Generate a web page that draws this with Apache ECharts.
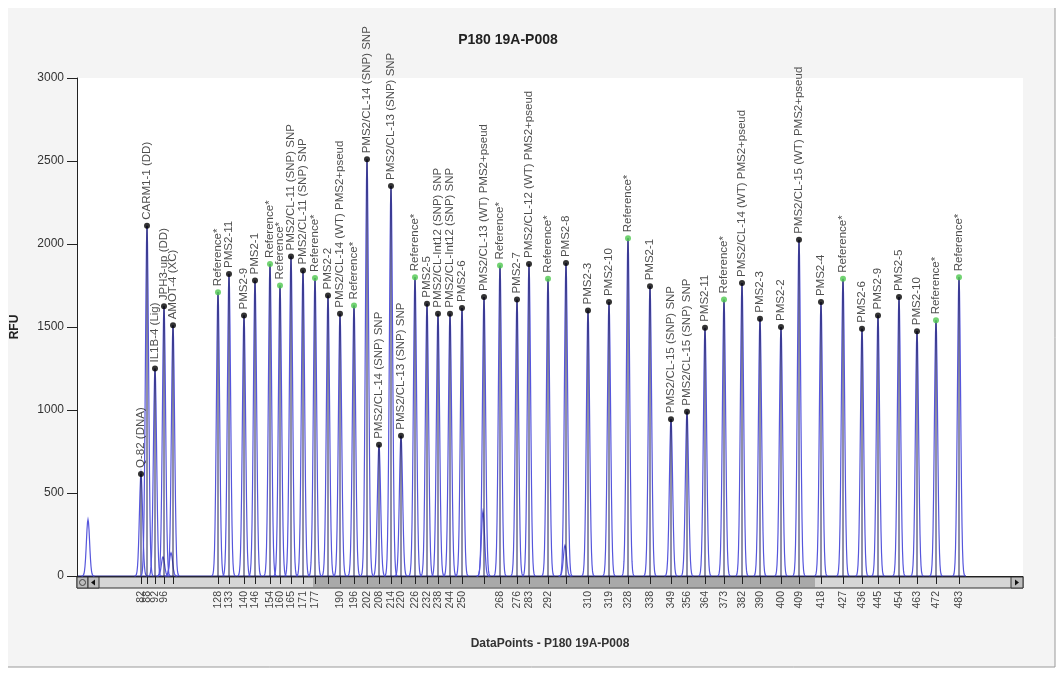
<!DOCTYPE html>
<html lang="en">
<head>
    <meta charset="UTF-8">
    <title>P180 19A-P008</title>
    <style>
        html,body{
            margin: 0;
            width: 100%;
            height: 100%;
            background: #fff;
        }
        #chartmain{
            width: 1059px;
            height: 675px;
        }
    </style>
</head>
<body>
<div id="chartmain"></div>

<script src="https://cdn.jsdelivr.net/npm/echarts@6/dist/echarts.min.js"></script>
<script type="text/javascript">
    // peak positions (data points), heights (RFU), probe names, size labels under the ticks
    var peakPos = [141, 147, 155, 164, 173,
        218, 229, 244, 255, 270, 280, 291, 303, 315,
        328,
        340, 354, 367, 379, 391, 401, 415, 427, 438, 450, 462,
        484,
        500, 517, 529, 548,
        566,
        588, 609, 628, 650, 671, 687, 705, 724, 742, 760, 781, 799, 821, 843, 862, 878, 899, 917, 936, 959];
    var peakHeight = [615, 2110, 1250, 1625, 1510,
        1710, 1820, 1570, 1780, 1880, 1750, 1925, 1840, 1795,
        1690,
        1580, 1630, 2510, 790, 2350, 845, 1800, 1640, 1580, 1580, 1615,
        1680,
        1870, 1665, 1880, 1790,
        1885,
        1600, 1650, 2035, 1745, 945, 990, 1495, 1665, 1765, 1550, 1500, 2025, 1650, 1790, 1490, 1570, 1680, 1475, 1540, 1800];
    var peakName = ['Q-82 (DNA)', 'CARM1-1 (DD)', 'IL1B-4 (Lig)', 'JPH3-up (DD)', 'AMOT-4 (XC)',
        'Reference*', 'PMS2-11', 'PMS2-9', 'PMS2-1', 'Reference*', 'Reference*', 'PMS2/CL-11 (SNP) SNP', 'PMS2/CL-11 (SNP) SNP', 'Reference*',
        'PMS2-2',
        'PMS2/CL-14 (WT) PMS2+pseud', 'Reference*', 'PMS2/CL-14 (SNP) SNP', 'PMS2/CL-14 (SNP) SNP', 'PMS2/CL-13 (SNP) SNP', 'PMS2/CL-13 (SNP) SNP', 'Reference*', 'PMS2-5', 'PMS2/CL-Int12 (SNP) SNP', 'PMS2/CL-Int12 (SNP) SNP', 'PMS2-6',
        'PMS2/CL-13 (WT) PMS2+pseud',
        'Reference*', 'PMS2-7', 'PMS2/CL-12 (WT) PMS2+pseud', 'Reference*',
        'PMS2-8',
        'PMS2-3', 'PMS2-10', 'Reference*', 'PMS2-1', 'PMS2/CL-15 (SNP) SNP', 'PMS2/CL-15 (SNP) SNP', 'PMS2-11', 'Reference*', 'PMS2/CL-14 (WT) PMS2+pseud', 'PMS2-3', 'PMS2-2', 'PMS2/CL-15 (WT) PMS2+pseud', 'PMS2-4', 'Reference*', 'PMS2-6', 'PMS2-9', 'PMS2-5', 'PMS2-10', 'Reference*', 'Reference*'];
    var sizeLabel = ['82', '88', '92', '96', '',
        '128', '133', '140', '146', '154', '160', '165', '171', '177',
        '',
        '190', '196', '202', '208', '214', '220', '226', '232', '238', '244', '250',
        '',
        '268', '276', '283', '292',
        '',
        '310', '319', '328', '338', '349', '356', '364', '373', '382', '390', '400', '409', '418', '427', '436', '445', '454', '463', '472', '483'];

    // unlabelled peaks and shoulders
    var minorPos = [88, 163, 171, 483, 565];
    var minorHeight = [340, 115, 140, 390, 185];

    var traceStart = 78, traceEnd = 966;

    // plot layout
    var G = {left: 77, right: 36, top: 78, bottom: 99};
    var W = 1059, H = 675;
    var plotR = W - G.right, plotB = H - G.bottom;

    // labels are split over two stacked axes so that close ones are not dropped
    var labelOf = {};
    var labelledA = [], labelledB = [];
    for (var i = 0; i < peakPos.length; i++) {
        labelOf[peakPos[i]] = sizeLabel[i];
        if (sizeLabel[i] === '') continue;
        if ((labelledA.length + labelledB.length) % 2 === 0) labelledA.push(peakPos[i]);
        else labelledB.push(peakPos[i]);
    }

    var markData = [];
    for (var i = 0; i < peakPos.length; i++) {
        var ref = peakName[i] === 'Reference*';
        markData.push({
            value: [peakPos[i], peakHeight[i]],
            name: peakName[i],
            itemStyle: {color: ref ? '#4fc84f' : '#000'}
        });
    }

    function peakShape(stem) {
        return function (params, api) {
            var x = api.value(0), h = api.value(1);
            var top = api.coord([x, h]);
            var base = api.coord([x, 0]);
            var hp = base[1] - top[1];
            var s = 1.6;
            var pts = [];
            for (var dx = -6.5; dx <= 6.51; dx += 0.5) {
                pts.push([base[0] + dx, base[1] - hp * Math.exp(-dx * dx / (2 * s * s))]);
            }
            var children = [{
                type: 'polyline',
                shape: {points: pts},
                style: {stroke: '#5656dc', fill: null, lineWidth: 1.2}
            }];
            if (stem) {
                children.push({
                    type: 'line',
                    shape: {x1: base[0], y1: base[1], x2: top[0], y2: top[1]},
                    style: {stroke: '#20204e', lineWidth: 1}
                });
            }
            return {type: 'group', children: children};
        };
    }

    var font = '"Liberation Sans", Arial, sans-serif';

    // scroll bar of the viewer, sits between the baseline and the axis line
    var sbY = plotB + 1, sbH = 11;
    var graphics = [
        {type: 'rect', z: -10, shape: {x: 8, y: 8, width: 1047, height: 659}, style: {fill: '#f4f4f4'}},
        {type: 'line', shape: {x1: 1055, y1: 8, x2: 1055, y2: 667}, style: {stroke: '#9a9a9a', lineWidth: 1}},
        {type: 'line', shape: {x1: 8, y1: 667, x2: 1055, y2: 667}, style: {stroke: '#9a9a9a', lineWidth: 1}},
        {type: 'rect', shape: {x: G.left, y: sbY, width: plotR - G.left, height: sbH}, style: {fill: '#d6d6d6', stroke: '#333', lineWidth: 1}},
        {type: 'rect', shape: {x: 313, y: sbY + 1, width: 502, height: sbH - 2}, style: {fill: '#a9a9a9'}},
        {type: 'rect', shape: {x: G.left, y: sbY, width: 11, height: sbH}, style: {fill: '#bdbdbd', stroke: '#333', lineWidth: 1}},
        {type: 'circle', shape: {cx: G.left + 5.5, cy: sbY + 5.5, r: 3}, style: {fill: '#bdbdbd', stroke: '#444', lineWidth: 1}},
        {type: 'rect', shape: {x: G.left + 11, y: sbY, width: 11, height: sbH}, style: {fill: '#bdbdbd', stroke: '#333', lineWidth: 1}},
        {type: 'polygon', shape: {points: [[G.left + 14, sbY + 5.5], [G.left + 18, sbY + 2.5], [G.left + 18, sbY + 8.5]]}, style: {fill: '#111'}},
        {type: 'rect', shape: {x: plotR - 12, y: sbY, width: 12, height: sbH}, style: {fill: '#bdbdbd', stroke: '#333', lineWidth: 1}},
        {type: 'polygon', shape: {points: [[plotR - 4, sbY + 5.5], [plotR - 8, sbY + 2.5], [plotR - 8, sbY + 8.5]]}, style: {fill: '#111'}}
    ];

    var tickLabel = {
        rotate: 90,
        margin: 3,
        fontSize: 10.5,
        color: '#444',
        fontFamily: font,
        hideOverlap: false,
        formatter: function (v) { return labelOf[v] || ''; }
    };

    var option = {
        backgroundColor: '#fff',
        animation: false,
        title: {
            text: 'P180 19A-P008',
            left: 503,
            textAlign: 'center',
            top: 28,
            textStyle: {fontSize: 14, fontWeight: 'bold', color: '#222', fontFamily: font}
        },
        graphic: graphics,
        grid: {
            left: G.left, right: G.right, top: G.top, bottom: G.bottom,
            show: true, backgroundColor: '#fff', borderWidth: 0
        },
        xAxis: [{
            type: 'value',
            min: 77,
            max: 1023,
            offset: 12,
            name: 'DataPoints - P180 19A-P008',
            nameLocation: 'middle',
            nameGap: 50,
            nameTextStyle: {fontSize: 12, fontWeight: 'bold', color: '#333', fontFamily: font},
            axisLine: {lineStyle: {color: '#222', width: 1}},
            axisTick: {length: 8, customValues: peakPos, lineStyle: {color: '#222'}},
            axisLabel: Object.assign({customValues: labelledA}, tickLabel),
            splitLine: {show: false}
        }, {
            type: 'value',
            position: 'bottom',
            min: 77,
            max: 1023,
            offset: 12,
            axisLine: {show: false},
            axisTick: {show: false},
            axisLabel: Object.assign({customValues: labelledB}, tickLabel),
            splitLine: {show: false}
        }],
        yAxis: {
            type: 'value',
            min: 0,
            max: 3000,
            interval: 500,
            name: 'RFU',
            nameLocation: 'middle',
            nameRotate: 90,
            nameGap: 56,
            nameTextStyle: {fontSize: 12, fontWeight: 'bold', color: '#222', fontFamily: font},
            axisLine: {show: true, lineStyle: {color: '#222', width: 1}},
            axisTick: {show: true, length: 10, lineStyle: {color: '#222'}},
            axisLabel: {
                fontSize: 12, color: '#333', margin: 13, fontFamily: font,
                formatter: function (v) { return String(v); }
            },
            splitLine: {show: false}
        },
        series: [
            {
                type: 'line',
                data: [[traceStart, 0], [traceEnd, 0]],
                symbol: 'none',
                lineStyle: {color: '#2a2a8c', width: 1},
                z: 2
            },
            {
                type: 'custom',
                renderItem: peakShape(false),
                data: minorPos.map(function (p, i) { return [p, minorHeight[i]]; }),
                z: 3
            },
            {
                type: 'custom',
                renderItem: peakShape(true),
                data: peakPos.map(function (p, i) { return [p, peakHeight[i]]; }),
                z: 3
            },
            {
                type: 'scatter',
                data: markData,
                symbolSize: 6,
                z: 5,
                label: {
                    show: true,
                    formatter: '{b}',
                    position: 'top',
                    rotate: 90,
                    align: 'left',
                    verticalAlign: 'middle',
                    distance: 3,
                    fontSize: 11.5,
                    color: '#222',
                    fontFamily: font
                }
            }
        ]
    };

    var myChart = echarts.init(document.getElementById('chartmain'));
    myChart.setOption(option);
</script>
</body>
</html>
